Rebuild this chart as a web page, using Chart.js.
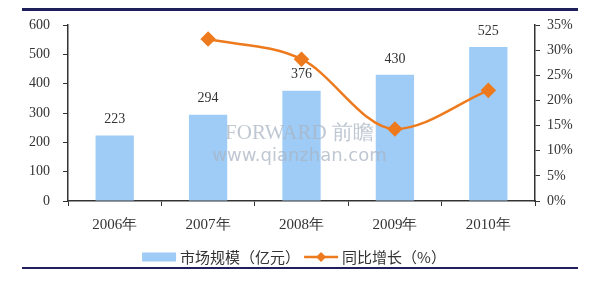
<!DOCTYPE html>
<html>
<head>
<meta charset="utf-8">
<script src="https://cdn.jsdelivr.net/npm/chart.js@4/dist/chart.umd.min.js"></script>
<style>
  html, body { margin: 0; padding: 0; background: #fff; overflow: hidden; }
  #wrap { position: relative; width: 600px; height: 283px; }
  #wrap canvas { display: block; }
</style>
</head>
<body>
<div id="wrap">
  <canvas id="chart" width="600" height="283"></canvas>
</div>
<script>
// data
const years = ['2006年', '2007年', '2008年', '2009年', '2010年'];
const marketSize = [223, 294, 376, 430, 525];          // 亿元
const growthRate = [null, 32.2, 28.2, 14.3, 22.0];     // %
const leftTicks = [0, 100, 200, 300, 400, 500, 600];
const rightTicks = [0, 5, 10, 15, 20, 25, 30, 35];

const barColor = '#9ECCF7';
const lineColor = '#EE7A1E';
const inkColor = '#333333';
const frameColor = '#1F1F5C';
const serif = '"Liberation Serif", "DejaVu Serif", serif';
const cjk = '"Noto Sans CJK SC", "Noto Sans", sans-serif';

// frame rules, watermark, bar value labels and the legend
const decorations = {
    id: 'decorations',
    afterDatasetsDraw(chart) {
        const ctx = chart.ctx;
        const area = chart.chartArea;
        const cx = (area.left + area.right) / 2;

        // watermark, sits on top of the bars
        ctx.save();
        ctx.textAlign = 'center';
        ctx.textBaseline = 'middle';
        ctx.fillStyle = 'rgba(170, 180, 195, 0.75)';
        ctx.font = '21px ' + serif;
        ctx.fillText('FORWARD 前瞻', cx - 2, 133);
        ctx.font = '18px "DejaVu Sans", sans-serif';
        ctx.fillText('www.qianzhan.com', cx - 2, 156);
        ctx.restore();

        // values on top of the bars
        const bars = chart.getDatasetMeta(1).data;
        ctx.save();
        ctx.fillStyle = inkColor;
        ctx.font = '14px ' + serif;
        ctx.textAlign = 'center';
        ctx.textBaseline = 'bottom';
        bars.forEach((bar, i) => {
            ctx.fillText(String(marketSize[i]), bar.x, bar.y - 9);
        });
        ctx.restore();
    },
    afterDraw(chart) {
        const ctx = chart.ctx;
        const w = chart.width;

        // navy rules above and below the chart
        ctx.save();
        ctx.fillStyle = frameColor;
        ctx.fillRect(22, 8, w - 44, 3);
        ctx.fillRect(22, 267, w - 44, 2);
        ctx.restore();

        // legend: bar series first, then the line
        const barSet = chart.data.datasets[1];
        const lineSet = chart.data.datasets[0];
        ctx.save();
        ctx.font = '15px ' + cjk;
        ctx.textBaseline = 'middle';
        const swatch = 34, gap = 4, between = 4;
        const w0 = ctx.measureText(barSet.label).width;
        const w1 = ctx.measureText(lineSet.label).width;
        const total = swatch + gap + w0 + between + swatch + gap + w1;
        let x = w / 2 - 6 - total / 2;
        const y = 257;

        ctx.fillStyle = barSet.backgroundColor;
        ctx.fillRect(x, y - 4.5, swatch, 9);
        x += swatch + gap;
        ctx.fillStyle = inkColor;
        ctx.fillText(barSet.label, x, y);
        x += w0 + between;

        ctx.strokeStyle = lineSet.borderColor;
        ctx.lineWidth = 2.5;
        ctx.beginPath();
        ctx.moveTo(x, y); ctx.lineTo(x + swatch, y);
        ctx.stroke();
        ctx.fillStyle = lineSet.borderColor;
        const mx = x + swatch / 2;
        ctx.beginPath();
        ctx.moveTo(mx, y - 5); ctx.lineTo(mx + 5, y); ctx.lineTo(mx, y + 5); ctx.lineTo(mx - 5, y);
        ctx.closePath();
        ctx.fill();
        x += swatch + gap;
        ctx.fillStyle = inkColor;
        ctx.fillText(lineSet.label, x, y);
        ctx.restore();
    }
};

new Chart(document.getElementById('chart'), {
    type: 'bar',
    data: {
        labels: years,
        datasets: [
            {
                type: 'line',
                label: '同比增长（%）',
                data: growthRate,
                yAxisID: 'yRight',
                borderColor: lineColor,
                backgroundColor: lineColor,
                borderWidth: 2.5,
                pointStyle: 'rectRot',
                pointRadius: 6,
                pointHoverRadius: 6,
                cubicInterpolationMode: 'monotone',
                order: 0
            },
            {
                label: '市场规模（亿元）',
                data: marketSize,
                yAxisID: 'yLeft',
                backgroundColor: barColor,
                categoryPercentage: 1,
                barPercentage: 0.41,
                order: 1
            }
        ]
    },
    options: {
        responsive: false,
        animation: false,
        events: [],
        layout: { padding: { top: 25, bottom: 42, left: 0, right: 0 } },
        plugins: {
            legend: { display: false },
            tooltip: { enabled: false }
        },
        scales: {
            x: {
                grid: {
                    offset: true,
                    drawOnChartArea: false,
                    color: inkColor,
                    tickLength: 5
                },
                border: { color: inkColor, width: 1.5 },
                ticks: {
                    color: inkColor,
                    font: { family: serif, size: 15 },
                    padding: 10
                },
                afterFit: (scale) => { scale.height = 40; }
            },
            yLeft: {
                position: 'left',
                min: 0,
                max: 600,
                afterBuildTicks: (scale) => { scale.ticks = leftTicks.map(v => ({ value: v })); },
                grid: { drawOnChartArea: false, color: inkColor, tickLength: 5 },
                border: { color: inkColor, width: 1.5 },
                ticks: {
                    color: inkColor,
                    font: { family: serif, size: 14 },
                    padding: 13
                },
                afterFit: (scale) => { scale.width = 68; }
            },
            yRight: {
                position: 'right',
                min: 0,
                max: 35,
                afterBuildTicks: (scale) => { scale.ticks = rightTicks.map(v => ({ value: v })); },
                grid: { drawOnChartArea: false, color: inkColor, tickLength: 5 },
                border: { color: inkColor, width: 1.5 },
                ticks: {
                    color: inkColor,
                    font: { family: serif, size: 14 },
                    padding: 7,
                    callback: (v) => v + '%'
                },
                afterFit: (scale) => { scale.width = 65; }
            }
        }
    },
    plugins: [decorations]
});
</script>
</body>
</html>
